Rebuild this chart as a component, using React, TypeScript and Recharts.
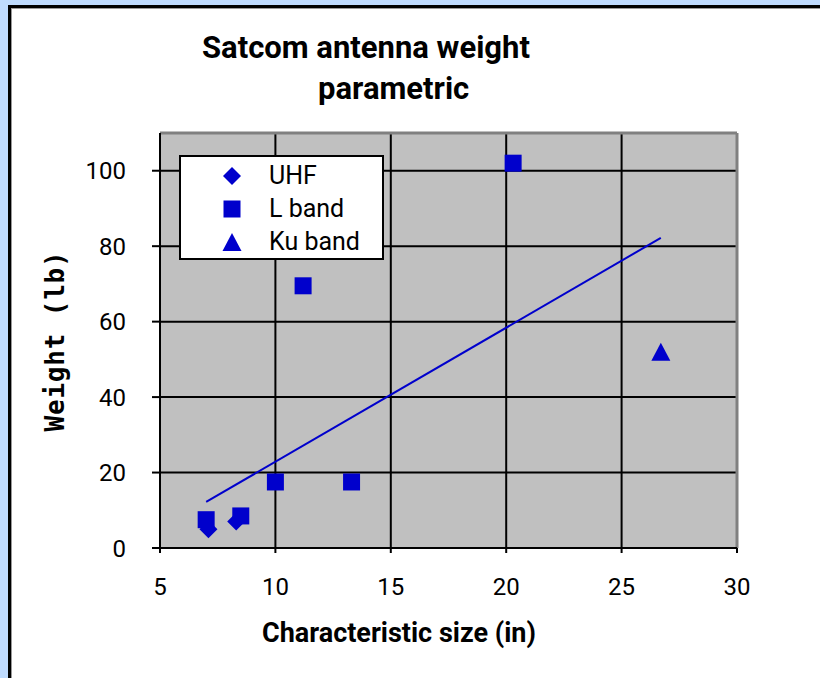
import React from 'react';
import {
  ScatterChart,
  Scatter,
  XAxis,
  YAxis,
  CartesianGrid,
  ReferenceLine,
} from 'recharts';

// ─── Data ──────────────────────────────────────────────────────────────────────
const UHF = [
  { size: 7.1, weight: 5 },
  { size: 8.3, weight: 7 },
];

const L_BAND = [
  { size: 7.0, weight: 7.5 },
  { size: 8.5, weight: 8.5 },
  { size: 10.0, weight: 17.5 },
  { size: 11.2, weight: 69.5 },
  { size: 13.3, weight: 17.5 },
  { size: 20.3, weight: 102 },
];

const KU_BAND = [{ size: 26.7, weight: 52 }];

// linear fit drawn across the points
const TREND = [
  { size: 7.0, weight: 12.2 },
  { size: 26.7, weight: 82.2 },
];

const X_TICKS = [5, 10, 15, 20, 25, 30];
const Y_TICKS = [0, 20, 40, 60, 80, 100];

const SERIES_NAMES = ['UHF', 'L band', 'Ku band'];

const BLUE = '#0000cc';
const PLOT_GREY = '#c0c0c0';

// ─── Marker shapes ────────────────────────────────────────────────────────────
function Square({ cx = 0, cy = 0 }: { cx?: number; cy?: number }) {
  return <rect x={cx - 8.5} y={cy - 8.5} width={17} height={17} fill={BLUE} />;
}

function Diamond({ cx = 0, cy = 0 }: { cx?: number; cy?: number }) {
  const r = 9;
  return <polygon points={`${cx},${cy - r} ${cx + r},${cy} ${cx},${cy + r} ${cx - r},${cy}`} fill={BLUE} />;
}

function Triangle({ cx = 0, cy = 0 }: { cx?: number; cy?: number }) {
  return <polygon points={`${cx},${cy - 9} ${cx + 9.5},${cy + 9} ${cx - 9.5},${cy + 9}`} fill={BLUE} />;
}

function NoDot() {
  return <g />;
}

// legend box, styled like the spreadsheet one
function LegendBox() {
  const icons = [
    <polygon key="d" points="9,0 18,9 9,18 0,9" fill={BLUE} />,
    <rect key="s" x={0.5} y={0.5} width={17} height={17} fill={BLUE} />,
    <polygon key="t" points="9,0 18.5,18 -0.5,18" fill={BLUE} />,
  ];
  return (
    <div style={{
      position: 'absolute',
      left: 179,
      top: 155,
      width: 205,
      height: 105,
      boxSizing: 'border-box',
      background: '#fff',
      border: '2px solid #000',
      padding: '2px 0 0 42px',
      fontFamily: 'Roboto, sans-serif',
      fontSize: 25,
      color: '#000',
    }}>
      {SERIES_NAMES.map((name, i) => (
        <div key={name} style={{ display: 'flex', alignItems: 'center', height: 33 }}>
          <svg width={18} height={18} style={{ overflow: 'visible' }}>{icons[i]}</svg>
          <span style={{ marginLeft: 28 }}>{name}</span>
        </div>
      ))}
    </div>
  );
}

export default function App() {
  return (
    <div style={{ position: 'absolute', left: 0, top: 0, width: 820, height: 678, background: '#bfdbfe', overflow: 'hidden' }}>
      {/* white panel */}
      <div style={{
        position: 'absolute', left: 8, top: 5, width: 830, height: 700,
        background: '#fff', borderLeft: '3px solid #000', borderTop: '3px solid #000',
        boxShadow: 'inset 1px 1px 0 #999',
      }} />

      {/* title, two lines as in the reference */}
      <div style={{ position: 'absolute', left: 202, top: 29, fontFamily: 'Roboto, sans-serif', fontWeight: 700, fontSize: 31, color: '#000', whiteSpace: 'nowrap' }}>
        Satcom antenna weight
      </div>
      <div style={{ position: 'absolute', left: 318, top: 70, fontFamily: 'Roboto, sans-serif', fontWeight: 700, fontSize: 31, color: '#000', whiteSpace: 'nowrap' }}>
        parametric
      </div>

      {/* axis titles */}
      <div style={{ position: 'absolute', left: 262, top: 617, fontFamily: 'Roboto, sans-serif', fontWeight: 700, fontSize: 27, color: '#000', whiteSpace: 'nowrap' }}>
        Characteristic size (in)
      </div>
      <div style={{
        position: 'absolute', left: 55, top: 341, transform: 'translate(-50%, -50%) rotate(-90deg)',
        fontFamily: '"DejaVu Sans Mono", monospace', fontWeight: 700, fontSize: 26, letterSpacing: 0.8,
        color: '#000', whiteSpace: 'nowrap',
      }}>
        Weight (lb)
      </div>

      <div style={{ position: 'absolute', left: 0, top: 0 }}>
        <ScatterChart width={820} height={678} margin={{ top: 133, right: 83, bottom: 100, left: 100 }}>
          <CartesianGrid fill={PLOT_GREY} fillOpacity={1} stroke="#000" strokeWidth={2} />
          <XAxis
            type="number"
            dataKey="size"
            domain={[5, 30]}
            ticks={X_TICKS}
            height={30}
            tickSize={5}
            tickMargin={25}
            axisLine={{ stroke: '#000', strokeWidth: 2 }}
            tickLine={{ stroke: '#000', strokeWidth: 2 }}
            tick={{ fontSize: 24, fill: '#000', fontFamily: 'Roboto, sans-serif' }}
            allowDataOverflow
          />
          <YAxis
            type="number"
            dataKey="weight"
            domain={[0, 110]}
            ticks={Y_TICKS}
            width={60}
            tickSize={8}
            tickMargin={26}
            axisLine={{ stroke: '#000', strokeWidth: 2 }}
            tickLine={{ stroke: '#000', strokeWidth: 2 }}
            tick={{ fontSize: 24, fill: '#000', fontFamily: 'Roboto, sans-serif' }}
            allowDataOverflow
          />
          {/* grey frame on the open sides of the plot */}
          <ReferenceLine y={110} stroke="#808080" strokeWidth={3} />
          <ReferenceLine x={30} stroke="#808080" strokeWidth={3} />

          <Scatter name="fit" data={TREND} shape={<NoDot />} line={{ stroke: BLUE, strokeWidth: 2 }} isAnimationActive={false} />
          <Scatter name="L band" data={L_BAND} shape={<Square />} isAnimationActive={false} />
          <Scatter name="UHF" data={UHF} shape={<Diamond />} isAnimationActive={false} />
          <Scatter name="Ku band" data={KU_BAND} shape={<Triangle />} isAnimationActive={false} />
        </ScatterChart>
      </div>

      <LegendBox />
    </div>
  );
}
